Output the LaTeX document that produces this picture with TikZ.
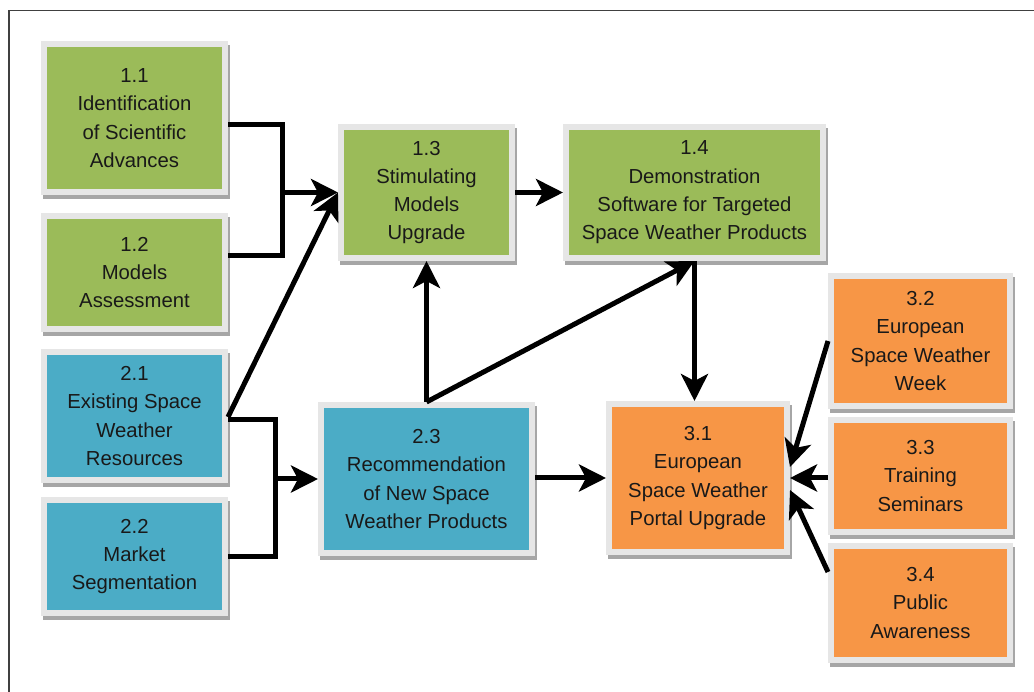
\documentclass[tikz,border=0pt]{standalone}
\usepackage{fontspec}
\setmainfont{Liberation Sans}
\usetikzlibrary{arrows.meta,shadows}
\definecolor{cgreen}{HTML}{9BBB59}
\definecolor{cblue}{HTML}{4BACC6}
\definecolor{corange}{HTML}{F79646}
\definecolor{cborder}{HTML}{E6E6E6}
\definecolor{cshadow}{HTML}{A6A6A6}
\definecolor{cframe}{HTML}{404040}
\tikzset{
  wbox/.style={draw=cborder, line width=6pt, rectangle, align=center, inner sep=2pt,
    text=black!90, font=\fontsize{20.3}{28.3}\selectfont,
    drop shadow={shadow xshift=2pt, shadow yshift=-4pt, fill=cshadow, draw=cshadow, line width=6pt, opacity=1}},
  conn/.style={line width=5pt, draw=black},
  arr/.style={conn, -{Stealth[length=27pt,width=27pt,inset=7pt]}},
}
\begin{document}
\begin{tikzpicture}[x=1pt,y=-1pt]
\useasboundingbox (0,0) rectangle (1034,692);
\fill[white] (0,0) rectangle (1034,692);
\draw[cframe, line width=1.5pt] (9,692) -- (9,10.5) -- (1034,10.5);

% boxes
\node[wbox, fill=cgreen, minimum width=181pt, minimum height=148pt] (n11) at (134.5,118) {1.1\\Identification\\of Scientific\\Advances};
\node[wbox, fill=cgreen, minimum width=181pt, minimum height=113pt] (n12) at (134.5,272.5) {1.2\\Models\\Assessment};
\node[wbox, fill=cblue, minimum width=181pt, minimum height=128pt] (n21) at (134.5,416) {2.1\\Existing Space\\Weather\\Resources};
\node[wbox, fill=cblue, minimum width=181pt, minimum height=113pt] (n22) at (134.5,556.5) {2.2\\Market\\Segmentation};
\node[wbox, fill=cgreen, minimum width=171pt, minimum height=131pt] (n13) at (426.5,192.5) {1.3\\Stimulating\\Models\\Upgrade};
\node[wbox, fill=cgreen, minimum width=257pt, minimum height=131pt] (n14) at (694.5,192.5) {1.4\\Demonstration\\Software for Targeted\\Space Weather Products};
\node[wbox, fill=cblue, minimum width=211pt, minimum height=148pt] (n23) at (426.5,479) {2.3\\Recommendation\\of New Space\\Weather Products};
\node[wbox, fill=corange, minimum width=178pt, minimum height=148pt] (n31) at (698,478) {3.1\\European\\Space Weather\\Portal Upgrade};
\node[wbox, fill=corange, minimum width=179pt, minimum height=130pt] (n32) at (920.5,341) {3.2\\European\\Space Weather\\Week};
\node[wbox, fill=corange, minimum width=179pt, minimum height=112pt] (n33) at (920.5,476) {3.3\\Training\\Seminars};
\node[wbox, fill=corange, minimum width=179pt, minimum height=114pt] (n34) at (920.5,603) {3.4\\Public\\Awareness};

% junction coordinates
\coordinate (j1) at (282,192.5);
\coordinate (j2) at (275,479);
\coordinate (t31a) at (790,467);
\coordinate (t31b) at (790,490);

% connectors group 1
\draw[conn] (n11.east |- 0,125) -| (j1) |- (n12.east |- 0,256);
\draw[arr] (j1) -- (n13.west);
\draw[arr] ([yshift=-1pt]n21.east) -- (n13.west);
\draw[arr] (n13.east) -- (n14.west);
\draw[arr] (n23.north) -- (n13.south);
\draw[arr] (n23.north) -- (n14.south);
\draw[arr] (n14.south) -- (n14.south |- n31.north);

% connectors group 2
\draw[conn] (n21.east |- 0,420) -| (j2) |- (n22.east |- 0,556);
\draw[arr] (j2) -- (n23.west);
\draw[arr] (n23.east |- 0,478) -- (n31.west |- 0,478);

% connectors group 3
\draw[arr] (n32.west) -- (t31a);
\draw[arr] (n33.west |- 0,478) -- (n31.east |- 0,478);
\draw[arr] (n34.west |- 0,572) -- (t31b);
\end{tikzpicture}
\end{document}
